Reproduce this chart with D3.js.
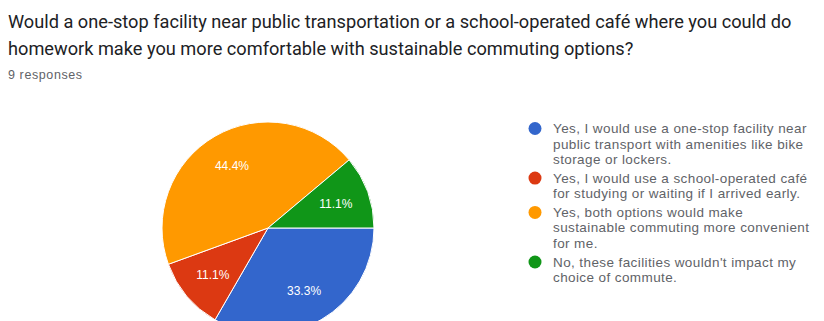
<!DOCTYPE html>
<html>
<head>
<meta charset="utf-8">
<script src="https://cdn.jsdelivr.net/npm/d3@7"></script>
<style>
  body { margin: 0; background: #fff; }
  svg { display: block; font-family: Roboto, Arial, sans-serif; }
</style>
</head>
<body>
<div id="chart"></div>
<script>
const titleLines = [
    'Would a one-stop facility near public transportation or a school-operated café where you could do',
    'homework make you more comfortable with sustainable commuting options?'
];
const subtitle = '9 responses';

const categories = [
    'Yes, I would use a one-stop facility near public transport with amenities like bike storage or lockers.',
    'Yes, I would use a school-operated café for studying or waiting if I arrived early.',
    'Yes, both options would make sustainable commuting more convenient for me.',
    "No, these facilities wouldn't impact my choice of commute."
];
// legend wrapping as it appears in the picture
const legendLines = [
    ['Yes, I would use a one-stop facility near', 'public transport with amenities like bike', 'storage or lockers.'],
    ['Yes, I would use a school-operated café', 'for studying or waiting if I arrived early.'],
    ['Yes, both options would make', 'sustainable commuting more convenient', 'for me.'],
    ["No, these facilities wouldn't impact my", 'choice of commute.']
];
const counts = [3, 1, 4, 1];
const colors = ['#3366cc', '#dc3912', '#ff9900', '#109618'];

const width = 824;
const height = 321;
const sans = '"Liberation Sans", Arial, sans-serif';

const svg = d3.select('#chart')
.append('svg')
.attr('width', width)
.attr('height', height);

// title
const title = svg.append('g');
titleLines.forEach((t, i) => {
    title.append('text')
    .attr('x', 8)
    .attr('y', 28 + i * 27)
    .attr('font-size', 18.2)
    .attr('fill', '#202124')
    .text(t);
});

svg.append('text')
.attr('x', 8)
.attr('y', 79)
.attr('font-family', sans)
.attr('font-size', 12.5)
.attr('letter-spacing', 0.6)
.attr('fill', '#5f6368')
.text(subtitle);

// pie
const total = d3.sum(counts);
const cx = 268, cy = 228, r = 106;

const pie = d3.pie()
.sort(null)
.startAngle(Math.PI / 2)
.endAngle(Math.PI / 2 + 2 * Math.PI)
.value(d => d);

const arc = d3.arc().innerRadius(0).outerRadius(r);
const labelArc = d3.arc().innerRadius(r * 0.68).outerRadius(r * 0.68);

const pieG = svg.append('g')
.attr('transform', `translate(${cx}, ${cy})`);

const arcs = pie(counts);

pieG.selectAll('path')
.data(arcs)
.join('path')
.attr('d', arc)
.attr('fill', (d, i) => colors[i])
.attr('stroke', '#fff')
.attr('stroke-width', 1);

pieG.selectAll('text')
.data(arcs)
.join('text')
.attr('transform', d => `translate(${labelArc.centroid(d)})`)
.attr('text-anchor', 'middle')
.attr('dy', '0.35em')
.attr('font-family', sans)
.attr('font-size', 12)
.attr('fill', '#fff')
.text(d => d3.format('.1%')(d.value / total));

// legend
const legend = svg.append('g');
const lineH = 15.3;
let y = 128.5;
legendLines.forEach((lines, i) => {
    legend.append('circle')
    .attr('cx', 535)
    .attr('cy', y)
    .attr('r', 6.5)
    .attr('fill', colors[i]);
    lines.forEach((t, j) => {
        legend.append('text')
        .attr('x', 553)
        .attr('y', y + j * lineH)
        .attr('dy', '0.35em')
        .attr('font-family', sans)
        .attr('font-size', 13.5)
        .attr('letter-spacing', 0.4)
        .attr('fill', '#5f6368')
        .text(t);
    });
    y += lines.length * lineH + 3.7;
});
</script>
</body>
</html>
